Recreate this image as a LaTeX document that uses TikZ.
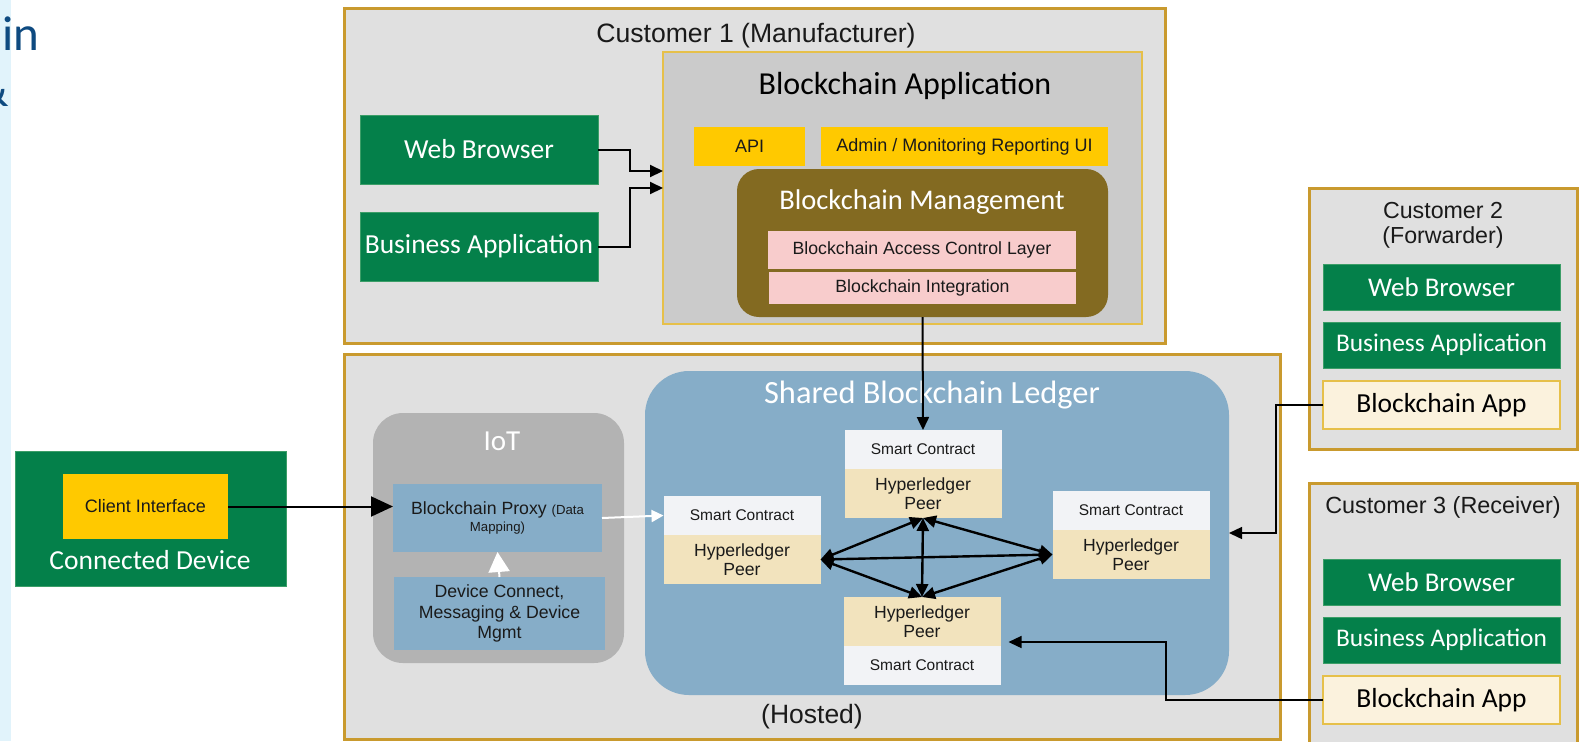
\documentclass[tikz,border=0pt]{standalone}
\usepackage{fontspec}
\setmainfont{Liberation Sans}
\newfontfamily\calibri{Carlito}
\usetikzlibrary{positioning,arrows.meta}

\definecolor{custfill}{HTML}{E0E0E0}
\definecolor{custline}{HTML}{C99A2E}
\definecolor{appgreen}{HTML}{04804A}
\definecolor{appgreenline}{HTML}{3C9E68}
\definecolor{apifill}{HTML}{FFC900}
\definecolor{appfill}{HTML}{CBCBCB}
\definecolor{appline}{HTML}{E6C04A}
\definecolor{mgmtfill}{HTML}{836A21}
\definecolor{pinkfill}{HTML}{F8CCCC}
\definecolor{iotfill}{HTML}{B3B3B3}
\definecolor{ledgerfill}{HTML}{86ADC8}
\definecolor{scfill}{HTML}{F2F3F6}
\definecolor{peerfill}{HTML}{F2E3BD}
\definecolor{bcappfill}{HTML}{FBF2DD}
\definecolor{slideblue}{HTML}{0E4A80}
\definecolor{slidestrip}{HTML}{E1F3FB}
\definecolor{textdark}{HTML}{1A1A1A}

\tikzset{
  area/.style n args={4}{at={({(#1+#3)/2},{(#2+#4)/2})}, minimum width={(#3-#1)*0.5pt},
    minimum height={(#4-#2)*0.5pt}, inner sep=0pt, outer sep=0pt},
  customer/.style={draw=custline, line width=1.5pt, fill=custfill},
  greenbox/.style={draw=appgreenline, line width=0.5pt, fill=appgreen, text=white, inner sep=0pt,
    font=\calibri\fontsize{13.75}{16}\selectfont},
  yellowbox/.style={fill=apifill, text=textdark, font=\fontsize{9}{11}\selectfont},
  pinkbox/.style={fill=pinkfill, text=textdark, font=\fontsize{8.85}{11}\selectfont},
  bluebox/.style={fill=ledgerfill, align=center, text=textdark,
    font=\fontsize{8.85}{10.4}\selectfont},
  scbox/.style={fill=scfill, inner sep=0pt, outer sep=0pt, minimum width=78.5pt,
    minimum height=19.5pt, text=textdark, font=\fontsize{7.75}{9}\selectfont},
  peerbox/.style={fill=peerfill, inner sep=0pt, outer sep=0pt, minimum width=78.5pt,
    minimum height=24.5pt, align=center, text=textdark, font=\fontsize{8.8}{9.6}\selectfont},
  stackbox/.style={greenbox, outer sep=0pt, minimum width=118.5pt, minimum height=23pt},
  appbox/.style={draw=appline, line width=0.75pt, fill=bcappfill, inner sep=0pt, outer sep=0pt,
    minimum width=118.5pt, minimum height=24pt, font=\calibri\fontsize{13.75}{16}\selectfont},
  title/.style={inner sep=0pt, text=textdark, font=\fontsize{12.3}{12.5}\selectfont},
  whitetitle/.style={inner sep=0pt, text=white, font=\calibri\fontsize{14.25}{16}\selectfont},
  arr/.style={-{Triangle[length=6.5pt,width=6pt]}, line width=1pt, black},
  thinarr/.style={arr, line width=0.7pt},
  warr/.style={-{Triangle[length=6pt,width=6pt]}, line width=1pt, white},
  peerarr/.style={{Triangle[length=6.5pt,width=6pt]}-{Triangle[length=6.5pt,width=6pt]},
    line width=1.2pt, black},
}

\begin{document}
\begin{tikzpicture}[x=0.5pt,y=-0.5pt]
\useasboundingbox (0,0) rectangle (1580,741);

 % slide remains on the left
\fill[slidestrip] (0,0) rectangle (11,741);
\node[anchor=base west, inner sep=0pt, text=slideblue, font=\calibri\fontsize{24.5}{26}\selectfont]
  (slidein) at (2,50) {in};
\node[anchor=base east, inner sep=0pt, text=slideblue, font=\calibri\fontsize{24.5}{26}\selectfont]
  (slideamp) at (9,106) {\&};

 % Customer 1
\node[customer, area={344}{8}{1165}{343}] (cust1) {};
\node[title, font=\fontsize{13.3}{14}\selectfont] (cust1title) at (756,36) {Customer 1 (Manufacturer)};

\node[draw=appline, line width=0.75pt, fill=appfill, area={663}{52}{1142}{324}] (bcapp) {};
\node[inner sep=0pt, font=\calibri\fontsize{16}{18}\selectfont] (bcapptitle) at (905,86) {Blockchain Application};
\node[yellowbox, area={694}{127}{805}{166}] (api) {API};
\node[yellowbox, area={821}{127}{1108}{166}] (admin) {Admin / Monitoring Reporting UI};

\node[fill=mgmtfill, rounded corners=11pt, area={737}{169}{1108}{317}] (mgmt) {};
\node[whitetitle] (mgmttitle) at (922,202) {Blockchain Management};
\node[pinkbox, area={768}{231}{1076}{269}] (access) {Blockchain Access Control Layer};
\node[pinkbox, area={769}{272}{1076}{304}] (integ) {Blockchain Integration};

\node[greenbox, area={360}{115}{598}{184}] (c1web) {Web Browser};
\node[greenbox, area={360}{212}{598}{281}] (c1biz) {Business Application};

\draw[arr] (c1web.east) -- ++(32,0) |- ([yshift=8.5pt]bcapp.west);
\draw[arr] (c1biz.east) -- ++(32,0) |- (bcapp.west);

 % Hosted part
\node[customer, area={344}{354}{1280}{739}] (hosted) {};
\node[title, font=\fontsize{13.25}{14}\selectfont] (hostedtitle) at (812,717) {(Hosted)};

\node[fill=iotfill, rounded corners=15pt, area={373}{413}{624}{663}] (iot) {};
\node[whitetitle, font=\calibri\fontsize{14.5}{16}\selectfont] (iottitle) at (502,441) {IoT};
\node[bluebox, area={393}{484}{602}{552}] (proxy)
  {Blockchain Proxy {\fontsize{6.6}{8}\selectfont(Data}\\[-2pt]{\fontsize{6.6}{8}\selectfont Mapping)}};
\node[bluebox, area={394}{577}{605}{650}] (device) {Device Connect,\\Messaging \& Device\\Mgmt};
\draw[warr, -{Triangle[length=10pt,width=10.5pt]}] (device.north) -- (proxy.south);

\node[fill=ledgerfill, rounded corners=22pt, area={645}{371}{1229}{695}] (ledger) {};
\node[whitetitle, font=\calibri\fontsize{16.2}{18}\selectfont] (ledgertitle) at (932,395) {Shared Blockchain Ledger};

 % Peers
\node[scbox] (tsc) at (923,449.5) {Smart Contract};
\node[peerbox, below=0pt of tsc] (thp) {Hyperledger\\Peer};
\node[scbox] (lsc) at (742,515.5) {Smart Contract};
\node[peerbox, below=0pt of lsc] (lhp) {Hyperledger\\Peer};
\node[scbox] (rsc) at (1131,510.5) {Smart Contract};
\node[peerbox, below=0pt of rsc] (rhp) {Hyperledger\\Peer};
\node[peerbox] (bhp) at (922,621.5) {Hyperledger\\Peer};
\node[scbox, below=0pt of bhp] (bsc) {Smart Contract};

\foreach \a/\b in {lhp.east/rhp.west, thp.south/bhp.north, lhp.east/thp.south,
                   lhp.east/bhp.north, rhp.west/thp.south, rhp.west/bhp.north}
  \draw[peerarr] (\a) -- (\b);

\draw[arr] (mgmt.south) -- (tsc.north);
\draw[warr] (proxy.east) -- (lsc.west);

 % Customer 2 and 3
\node[customer, area={1309}{188}{1577}{449}] (cust2) {};
\node[title, align=center, font=\fontsize{11.6}{12.6}\selectfont] (cust2title) at (1443,225) {Customer 2\\(Forwarder)};
\node[stackbox, font=\calibri\fontsize{13.5}{16}\selectfont] (c2web) at (1441.5,287) {Web Browser};
\node[stackbox, below=6pt of c2web, font=\calibri\fontsize{12.7}{16}\selectfont] (c2biz) {Business Application};
\node[appbox, below=6.5pt of c2biz] (c2app) {Blockchain App};

\node[customer, area={1309}{483}{1577}{770}] (cust3) {};
\node[title, font=\fontsize{11.7}{12.6}\selectfont] (cust3title) at (1443,507) {Customer 3 (Receiver)};
\node[stackbox, font=\calibri\fontsize{13.5}{16}\selectfont] (c3web) at (1441.5,582) {Web Browser};
\node[stackbox, below=6pt of c3web, font=\calibri\fontsize{12.7}{16}\selectfont] (c3biz) {Business Application};
\node[appbox, below=6.5pt of c3biz] (c3app) {Blockchain App};

\draw[thinarr] (c2app.west) -- ++(-47,0) |- (ledger.east);
\draw[thinarr] (c3app.west) -- ++(-157,0) |- ([xshift=4pt,yshift=-10.25pt]bhp.east);

 % Connected device
\node[greenbox, area={15}{451}{286}{586}] (device0) {};
\node[yellowbox, area={63}{474}{228}{539}] (client) {Client Interface};
\node[inner sep=0pt, text=white, font=\calibri\fontsize{13.75}{16}\selectfont] (devtitle) at (150,560) {Connected Device};
\draw[arr, -{Triangle[length=11pt,width=10pt]}] (client.east) -- (proxy.west |- client.east);

\end{tikzpicture}
\end{document}
